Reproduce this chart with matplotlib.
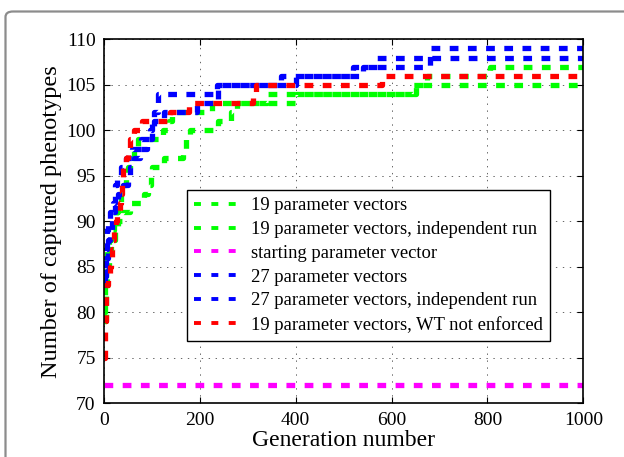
import matplotlib
matplotlib.use("Agg")
import matplotlib.pyplot as plt
from matplotlib.patches import FancyBboxPatch

# step curves: generation -> number of captured phenotypes
green1_x = [0, 3, 5, 7, 10, 14, 20, 26, 30, 35, 40, 45, 50, 55, 62, 70, 124, 135, 142, 225, 340, 650, 1000]
green1_y = [80, 83, 85, 87, 88, 89, 90, 91, 92, 93, 94, 95, 96, 97, 98, 99, 100, 101, 102, 103, 104, 105, 105]

green2_x = [0, 4, 7, 10, 15, 22, 30, 40, 55, 84, 92, 98, 100, 125, 165, 170, 180, 238, 265, 278, 400, 645, 673, 805, 1000]
green2_y = [79, 82, 84, 86, 88, 89, 90, 91, 92, 93, 94, 95, 96, 97, 98, 99, 100, 101, 102, 103, 104, 105, 106, 107, 107]

start_x = [0, 1000]
start_y = [72, 72]

blue1_x = [0, 3, 5, 7, 9, 13, 18, 22, 28, 36, 45, 58, 78, 95, 100, 105, 113, 235, 370, 540, 680, 1000]
blue1_y = [83, 85, 87, 89, 90, 91, 92, 94, 95, 96, 97, 98, 99, 100, 101, 102, 104, 105, 106, 107, 109, 109]

blue2_x = [0, 4, 8, 12, 17, 22, 30, 40, 50, 55, 62, 75, 90, 100, 105, 125, 195, 238, 400, 520, 570, 1000]
blue2_y = [84, 86, 88, 89, 91, 92, 93, 94, 95, 96, 97, 98, 99, 100, 101, 102, 103, 105, 106, 107, 108, 108]

red_x = [0, 2, 3, 4, 5, 8, 12, 14, 16, 18, 20, 25, 28, 33, 36, 38, 40, 46, 50, 55, 62, 80, 138, 178, 311, 318, 580, 1000]
red_y = [75, 77, 79, 81, 83, 84, 85, 86, 87, 88, 89, 90, 91, 92, 93, 94, 96, 97, 98, 99, 100, 101, 102, 103, 104, 105, 106, 106]

labels = ["19 parameter vectors",
          "19 parameter vectors, independent run",
          "starting parameter vector",
          "27 parameter vectors",
          "27 parameter vectors, independent run",
          "19 parameter vectors, WT not enforced"]

plt.rcParams['font.family'] = ['Liberation Serif', 'DejaVu Serif']
plt.rcParams['lines.scale_dashes'] = False

fig = plt.figure(figsize=(6.24, 4.57), dpi=100)
ax = fig.add_axes([0.1667, 0.1175, 0.7681, 0.7965])

# grey rounded frame around the figure (journal style)
frame = FancyBboxPatch((5.5 / 624, -0.1), 1.2, (457 - 11.5) / 457 + 0.1,
                       boxstyle="round,pad=0,rounding_size=0.012",
                       transform=fig.transFigure, fill=False,
                       edgecolor='#8c8c8c', linewidth=1.6, clip_on=False)
fig.patches.append(frame)

series = [(green1_x, green1_y, '#00ff00'),
          (green2_x, green2_y, '#00ff00'),
          (start_x, start_y, '#ff00ff'),
          (blue1_x, blue1_y, '#0000ff'),
          (blue2_x, blue2_y, '#0000ff'),
          (red_x, red_y, '#ff0000')]

for (xs, ys, col), lab in zip(series, labels):
    ax.plot(xs, ys, drawstyle='steps-post', color=col, linewidth=3.8,
            dashes=(6.3, 6.8), label=lab)

ax.set_xlim(0, 1000)
ax.set_ylim(70, 110)
ax.set_xticks(range(0, 1001, 200))
ax.set_yticks(range(70, 111, 5))
ax.tick_params(direction='in', top=True, right=True, labelsize=14, length=4, pad=6)
ax.grid(True, color='black', linestyle=(0, (1, 4)), linewidth=0.6, alpha=0.7)
for s in ax.spines.values():
    s.set_linewidth(1.2)

ax.set_xlabel("Generation number", fontsize=17, labelpad=1)
ax.set_ylabel("Number of captured phenotypes", fontsize=17.5, labelpad=3)

leg = ax.legend(loc='upper left', bbox_to_anchor=(0.173, 0.586), borderaxespad=0,
                fontsize=13.4, handlelength=2.7, handletextpad=0.35, borderpad=0.4,
                labelspacing=0.36, fancybox=False, edgecolor='black', framealpha=1)
leg.get_frame().set_linewidth(1.0)
for ln in leg.get_lines():
    ln.set_linewidth(2.8)
    ln.set_dashes((5.0, 7.5))

fig.savefig("out.png", dpi=100)
